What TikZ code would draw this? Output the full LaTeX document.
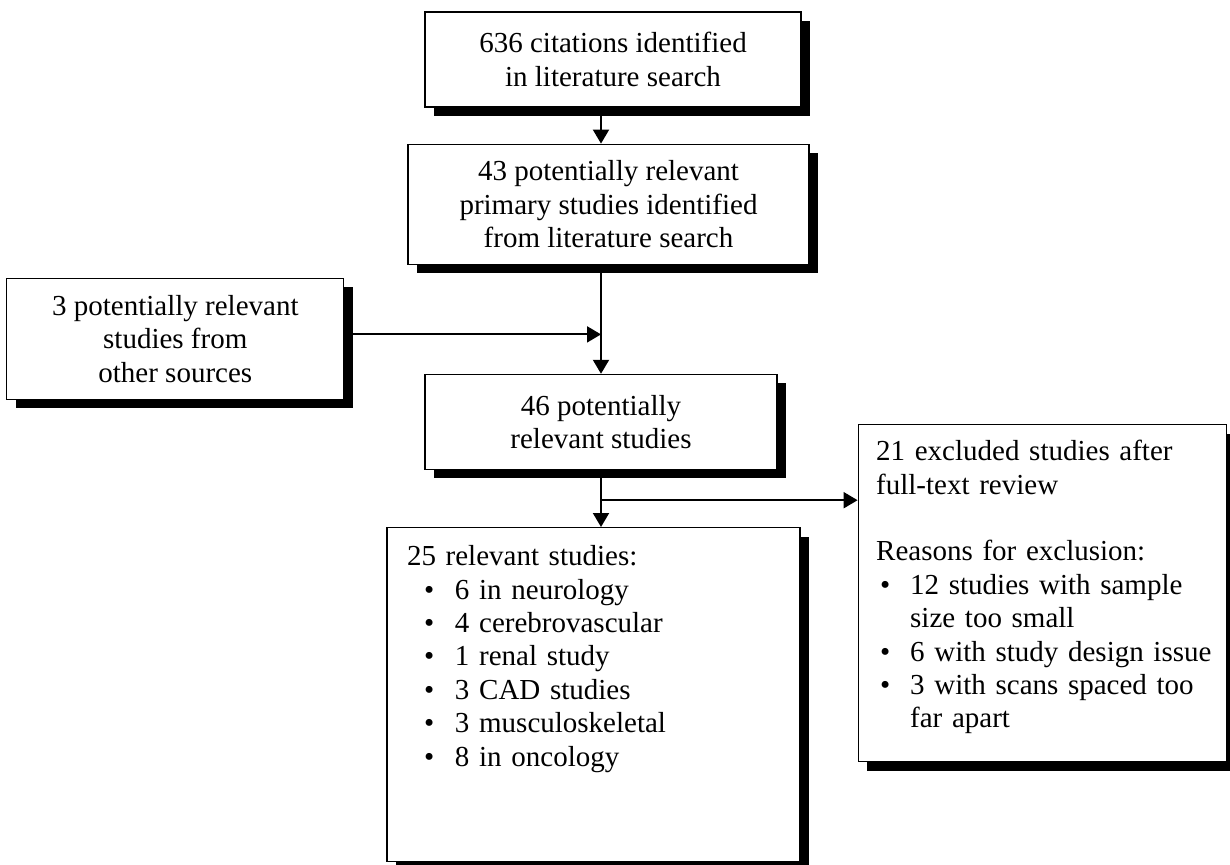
\documentclass[tikz,border=0pt]{standalone}
\usepackage{fontspec}
\setmainfont{Liberation Serif}
\usetikzlibrary{arrows.meta,positioning,calc,shadows}
\newcommand{\lbul}[1]{\makebox[#1][l]{\textbullet}}

\begin{document}
\begin{tikzpicture}[
  node distance=18pt and 40pt,
  font=\fontsize{14.5}{16.7}\selectfont,
  stage/.style={rectangle,draw,line width=0.6pt,fill=white,align=center,inner sep=4pt,
    drop shadow={shadow xshift=4.5pt,shadow yshift=-4.5pt,fill=black,opacity=1}},
  list/.style={stage,align=left,inner xsep=10pt,inner ysep=8pt},
  edge/.style={line width=1pt,-{Triangle[length=7pt,width=8pt]}}]
  \useasboundingbox (0,0) rectangle (615pt,-432.5pt);
  \node[stage,minimum width=188pt,minimum height=47.5pt] (cit) at (306.5pt,-29.75pt)
    {636 citations identified\\in literature search};
  \node[stage,below=18pt of cit,xshift=-2.25pt,minimum width=200.5pt,minimum height=60pt] (prim)
    {43 potentially relevant\\primary studies identified\\from literature search};
  \node[stage,below=54.5pt of prim,xshift=-3.75pt,minimum width=176pt,minimum height=47.5pt] (pot)
    {46 potentially\\relevant studies};
  \node[stage,left=40pt of pot,yshift=41.5pt,minimum width=168.5pt,minimum height=60.5pt] (other)
    {3 potentially relevant\\studies from\\other sources};
  \node[list,below=28.5pt of pot,xshift=-3.75pt,text width=186.5pt,text height=11pt,text depth=140pt] (rel)
    {25 relevant studies:\\
     \hspace*{8.5pt}\lbul{15.5pt}6 in neurology\\
     \hspace*{8.5pt}\lbul{15.5pt}4 cerebrovascular\\
     \hspace*{8.5pt}\lbul{15.5pt}1 renal study\\
     \hspace*{8.5pt}\lbul{15.5pt}3 CAD studies\\
     \hspace*{8.5pt}\lbul{15.5pt}3 musculoskeletal\\
     \hspace*{8.5pt}\lbul{15.5pt}8 in oncology};
  \node[list,right=28.5pt of rel.north east,anchor=north west,yshift=51.5pt,inner xsep=6pt,
    text width=172pt,text height=10pt,text depth=142.5pt] (excl)
    {\hspace*{3pt}21 excluded studies after\\
     \hspace*{3pt}full-text review\\[16.7pt]
     \hspace*{3pt}Reasons for exclusion:\\
     \hspace*{5pt}\lbul{15pt}12 studies with sample\\
     \hspace*{20pt}size too small\\
     \hspace*{5pt}\lbul{15pt}6 with study design issue\\
     \hspace*{5pt}\lbul{15pt}3 with scans spaced too\\
     \hspace*{20pt}far apart};
  \draw[edge] (cit.south -| pot.north) -- (prim.north -| pot.north);
  \draw[edge] (prim.south -| pot.north) -- (pot.north);
  \draw[edge] ([yshift=2.25pt]other.east) -- ([yshift=2.25pt]other.east -| pot.north);
  \draw[edge] (pot.south) -- (pot.south |- rel.north);
  \coordinate (split) at ($(pot.south)!0.53!(pot.south |- rel.north)$);
  \draw[edge] (split) -- (split -| excl.west);
\end{tikzpicture}
\end{document}
